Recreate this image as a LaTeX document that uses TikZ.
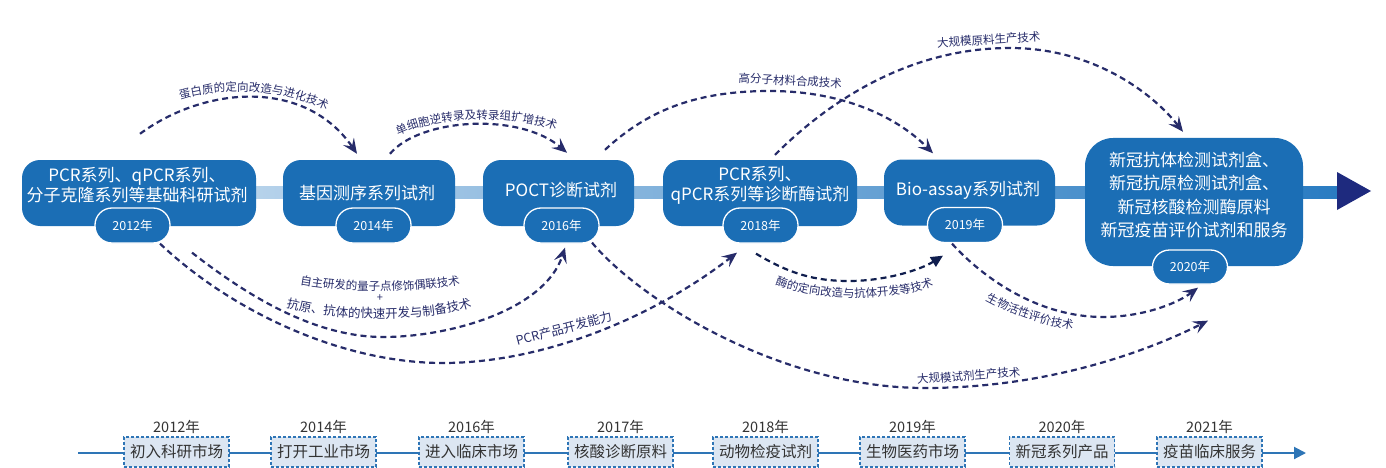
\documentclass[tikz,border=0pt]{standalone}
\usepackage{fontspec}
\setmainfont{Noto Sans CJK SC}
\usetikzlibrary{arrows.meta,decorations.text,calc}
\definecolor{boxblue}{HTML}{1B6EB5}
\definecolor{navy}{HTML}{272C6A}
\definecolor{deepnavy}{HTML}{101E4E}
\definecolor{arrownavy}{HTML}{1E2A7E}
\definecolor{tlblue}{HTML}{2E75B6}
\definecolor{tlfill}{HTML}{DCE6F2}
\definecolor{tltext}{HTML}{333333}
\definecolor{barL}{HTML}{D3E4F3}
\definecolor{barR}{HTML}{2A7CC2}
\begin{document}
\begin{tikzpicture}[x=1pt,y=-1pt,
  mainbox/.style={fill=boxblue, rounded corners=18pt, inner sep=0pt, minimum height=66pt},
  boxtext/.style={text=white, font=\fontsize{17}{20}\selectfont, align=center, inner sep=0pt},
  pill/.style={fill=boxblue, draw=white, line width=1.3pt, rounded corners=17pt, minimum width=75pt, minimum height=35pt, inner sep=0pt, text=white, font=\fontsize{12.5}{14}\selectfont},
  tech/.style={draw=navy, line width=2.2pt, dash pattern=on 6pt off 4pt, -{Stealth[length=15pt,width=13pt,inset=6pt]}},
  techdark/.style={draw=deepnavy, line width=2.2pt, dash pattern=on 6pt off 4pt, -{Triangle[length=12pt,width=11pt]}},
  lbl/.style={decorate, decoration={text along path, text align=center, text={|\fontsize{11.5}{12}\selectfont\color{navy}|#1}}},
  lblbig/.style={decorate, decoration={text along path, text align=center, text={|\fontsize{12.5}{13}\selectfont\color{navy}|#1}}},
  flatlbl/.style={text=navy, font=\fontsize{11.5}{12}\selectfont, inner sep=0pt, anchor=base},
  plustext/.style={text=navy, font=\fontsize{11}{12}\selectfont, inner sep=0pt},
  tlbox/.style={fill=tlfill, draw=tlblue, dash pattern=on 3pt off 2pt, line width=1.4pt, minimum width=105pt, minimum height=30pt, inner sep=0pt, text=tltext, font=\fontsize{15.5}{18}\selectfont},
  yearlbl/.style={text=tltext, font=\fontsize{14.5}{16}\selectfont, inner sep=0pt}
]
\useasboundingbox (0,0) rectangle (1386,468);

% main axis
\shade[left color=barL, right color=barR] (30,186) rectangle (1337,198);
\fill[arrownavy] (1337,172) -- (1371,191) -- (1337,210) -- cycle;

% main boxes
\node[mainbox, minimum width=234pt] (b1) at (139,193) {};
\node[mainbox, minimum width=172pt] (b2) at (369,193) {};
\node[mainbox, minimum width=151pt] (b3) at (558.5,193) {};
\node[mainbox, minimum width=194pt] (b4) at (760,193) {};
\node[mainbox, minimum width=171pt] (b5) at (969.5,192.5) {};
\node[mainbox, minimum width=218pt, minimum height=128pt, rounded corners=28pt] (b6) at (1194,202) {};

\node[boxtext] (t1) at (137,185) {PCR系列、qPCR系列、\\分子克隆系列等基础科研试剂};
\node[boxtext] (t2) at (367,193) {基因测序系列试剂};
\node[boxtext] (t3) at (561,190.5) {POCT诊断试剂};
\node[boxtext] (t4) at (760,185) {PCR系列、\\qPCR系列等诊断酶试剂};
\node[boxtext] (t5) at (968,190.5) {Bio-assay系列试剂};
\node[boxtext, font=\fontsize{17}{23.5}\selectfont] (t6) at (1194,195) {新冠抗体检测试剂盒、\\新冠抗原检测试剂盒、\\新冠核酸检测酶原料\\新冠疫苗评价试剂和服务};

% year pills
\node[pill] (p1) at (132.5,225.5) {2012年};
\node[pill] (p2) at (373.5,225.5) {2014年};
\node[pill] (p3) at (561.5,225.5) {2016年};
\node[pill] (p4) at (760.5,225.5) {2018年};
\node[pill] (p5) at (965,225) {2019年};
\node[pill, minimum height=34pt] (p6) at (1190,267) {2020年};

% connector end points
\coordinate (a1s) at ($(b1.north)+(1,-26)$);
\coordinate (a1e) at ($(b2.north)+(-12,-6)$);
\coordinate (a2s) at ($(b2.north)+(21,-6)$);
\coordinate (a2e) at ($(b3.north)+(8.5,-7)$);
\coordinate (a3s) at ($(b3.north)+(46.5,-10)$);
\coordinate (a3e) at ($(b5.north)+(-36.5,-6)$);
\coordinate (a4s) at ($(b4.north)+(15,-5)$);
\coordinate (a4e) at ($(b6.north)+(-11,-6)$);
\coordinate (a5s) at ($(p1.south)+(59.5,9)$);
\coordinate (a5e) at ($(p3.south)+(3.5,4)$);
\coordinate (a6s) at ($(p1.south)+(27.5,0)$);
\coordinate (a6e) at ($(p4.south)+(-23.5,9)$);
\coordinate (a7s) at ($(p4.south)+(-4.5,10)$);
\coordinate (a7e) at ($(p5.south)+(-22,12.5)$);
\coordinate (a8s) at ($(p5.south)+(-13,0.5)$);
\coordinate (a8e) at ($(p6.south)+(8,3)$);
\coordinate (a9s) at ($(p3.south)+(30.5,-1)$);
\coordinate (a9e) at ($(p6.south)+(18,36)$);

% technology connectors
\draw[tech] (a1s) .. controls (205,86) and (305,78) .. (a1e);
\draw[tech] (a2s) .. controls (420,118) and (520,112) .. (a2e);
\draw[tech] (a3s) .. controls (650,108) and (700,91) .. (770,91) .. controls (840,91) and (895,115) .. (a3e);
\draw[tech] (a4s) .. controls (830,100) and (910,48) .. (1010,48) .. controls (1090,48) and (1150,90) .. (a4e);
\draw[tech] (a5s) .. controls (240,290) and (310,337) .. (383,337) .. controls (450,337) and (545,310) .. (a5e);
\draw[tech] (a6s) .. controls (230,310) and (340,363) .. (443,363) .. controls (540,363) and (650,320) .. (a6e);
\draw[techdark] (a7s) .. controls (790,274) and (815,281) .. (849,281) .. controls (885,281) and (920,270) .. (a7e);
\draw[tech] (a8s) .. controls (985,280) and (1040,317) .. (1103,317) .. controls (1140,317) and (1175,305) .. (a8e);
\draw[tech] (a9s) .. controls (640,300) and (780,388) .. (925,388) .. controls (1050,388) and (1150,350) .. (a9e);

% connector labels
\path[lbl={蛋白质的定向改造与进化技术}] (170,103) .. controls (215,86) and (285,86) .. (336,115);
\path[lbl={单细胞逆转录及转录组扩增技术}] (393,138) .. controls (430,116) and (512,113) .. (561,132);
\node[flatlbl, rotate=-3] (l3) at (790,85) {高分子材料合成技术};
\node[flatlbl, rotate=3.5] (l4) at (989,44) {大规模原料生产技术};
\path[lbl={自主研发的量子点修饰偶联技术}] (294,283) .. controls (340,293) and (420,293) .. (466,283);
\node[plustext] (plus) at (380,298.5) {+};
\path[lblbig={抗原、抗体的快速开发与制备技术}] (276,304) .. controls (330,323) and (430,323) .. (482,304);
\node[flatlbl, font=\fontsize{12.5}{13}\selectfont, rotate=14.9] (l7) at (565,333) {PCR产品开发能力};
\path[lbl={酶的定向改造与抗体开发等技术}] (770,282) .. controls (810,301) and (893,303) .. (939,284);
\path[lbl={生物活性评价技术}] (982,298) .. controls (1010,314) and (1040,325) .. (1077,330);
\node[flatlbl, rotate=4] (l10) at (969,380) {大规模试剂生产技术};

% bottom timeline
\coordinate (tls) at (78,453);
\coordinate (tle) at (1306,453);
\draw[tlblue, line width=2pt, -{Triangle[length=12pt,width=12pt]}] (tls) -- (tle);
\foreach \i/\x/\yr/\txt in {1/176.5/2012/初入科研市场, 2/323.5/2014/打开工业市场, 3/471.5/2016/进入临床市场, 4/620.5/2017/核酸诊断原料, 5/765.5/2018/动物检疫试剂, 6/912.5/2019/生物医药市场, 7/1062/2020/新冠系列产品, 8/1209.5/2021/疫苗临床服务}{
  \node[tlbox] (m\i) at (\x,452) {\txt};
  \node[yearlbl] (y\i) at (\x,427) {\yr 年};
}
\end{tikzpicture}
\end{document}
